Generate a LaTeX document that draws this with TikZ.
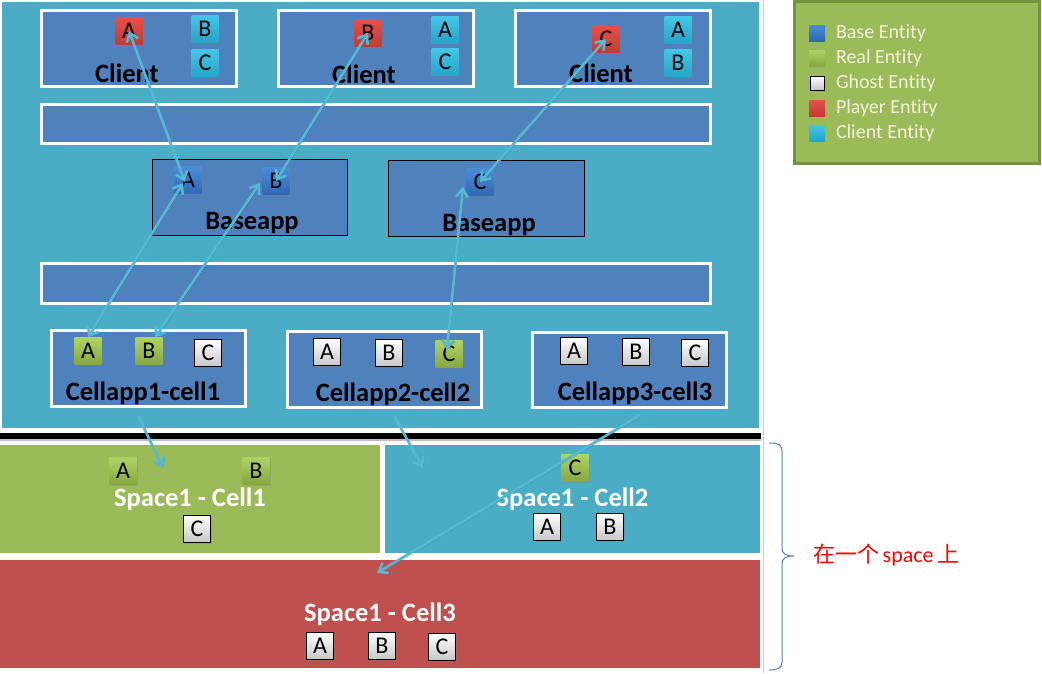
\documentclass[tikz,border=0pt]{standalone}
\usepackage{fontspec}
\setmainfont{Carlito}[Ligatures=NoCommon]
\newfontfamily\cjk{Noto Sans CJK SC}
\usetikzlibrary{arrows.meta,calc,shadows}
\definecolor{tealbg}{HTML}{4BACC6}
\definecolor{boxblue}{HTML}{4F81BD}
\definecolor{cellgreen}{HTML}{9BBB59}
\definecolor{cellred}{HTML}{C0504D}
\definecolor{legborder}{HTML}{76923C}
\definecolor{legtext}{HTML}{F4F4DC}
\definecolor{arrowc}{HTML}{55B9D4}
\definecolor{bracec}{HTML}{4F81BD}
\definecolor{entred1}{HTML}{E5504B}
\definecolor{entred2}{HTML}{C03B35}
\definecolor{entcy1}{HTML}{45C6E6}
\definecolor{entcy2}{HTML}{25A3C8}
\definecolor{entbl1}{HTML}{4A8CD8}
\definecolor{entbl2}{HTML}{2F68B4}
\definecolor{entgr1}{HTML}{AFD265}
\definecolor{entgr2}{HTML}{86A83E}
\begin{document}
\begin{tikzpicture}[x=1pt,y=-1pt,
  every node/.style={inner sep=0pt, outer sep=0pt},
  whitebox/.style={fill=boxblue, draw=white, line width=3pt,
    drop shadow={shadow xshift=1.2pt, shadow yshift=-1.2pt, opacity=0.35}},
  thinbox/.style={fill=boxblue, draw=black, line width=0.8pt},
  lbl/.style={font=\fontsize{26.5}{26.5}\selectfont\bfseries, text=black},
  spacelbl/.style={font=\fontsize{26.5}{26.5}\selectfont\bfseries, text=white},
  ent/.style={minimum width=27pt, minimum height=27pt, font=\fontsize{24}{24}\selectfont,
    drop shadow={shadow xshift=1pt, shadow yshift=-1pt, opacity=0.3}},
  ghost/.style={ent, draw=black, line width=0.9pt, top color=white, bottom color=black!22},
  real/.style={ent, top color=entgr1, bottom color=entgr2},
  player/.style={ent, top color=entred1, bottom color=entred2},
  cliente/.style={ent, top color=entcy1, bottom color=entcy2},
  basee/.style={ent, top color=entbl1, bottom color=entbl2},
  legsq/.style={minimum width=16pt, minimum height=16pt},
  legtxt/.style={font=\fontsize{20}{20}\selectfont, text=legtext, anchor=west},
  conn/.style={draw=arrowc, line width=2.6pt,
    {Straight Barb[length=8pt,width=12pt]}-{Straight Barb[length=8pt,width=12pt]},
    preaction={draw=black!80, opacity=0.4, transform canvas={shift={(1pt,-1pt)}}}},
  oneway/.style={draw=arrowc, line width=2.6pt,
    -{Straight Barb[length=8pt,width=12pt]},
    preaction={draw=black!80, opacity=0.4, transform canvas={shift={(1pt,-1pt)}}}}
]
\useasboundingbox (0,0) rectangle (1042,673);
\fill[white] (0,0) rectangle (1042,673);

% top panel
\draw[white, line width=2pt, fill=tealbg] (1,1) rectangle (760,429);
\draw[black!20, line width=1pt] (763,0) -- (763,673);
% separator
\fill[black] (0,433) rectangle (761,439);
\fill[black!25] (0,439) rectangle (761,441);

% space cells
\node[fill=cellgreen, minimum width=380pt, minimum height=108pt, spacelbl] (sc1) at (190,499) {Space1 - Cell1};
\node[fill=tealbg, minimum width=375pt, minimum height=108pt, spacelbl] (sc2) at (572.5,499) {Space1 - Cell2};
\node[fill=cellred, minimum width=760pt, minimum height=108pt, spacelbl] (sc3) at (380,614) {Space1 - Cell3};

% client boxes
\node[whitebox, minimum width=195pt, minimum height=76pt] (cl1) at (139,48.5) {};
\node[whitebox, minimum width=195pt, minimum height=76pt] (cl2) at (376,48.5) {};
\node[whitebox, minimum width=195pt, minimum height=76pt] (cl3) at (613,48.5) {};
\node[lbl] (cl1t) at (127,73) {Client};
\node[lbl] (cl2t) at (364,74) {Client};
\node[lbl] (cl3t) at (601,73) {Client};

% bars
\node[whitebox, minimum width=669pt, minimum height=39pt] (bar1) at (376,124) {};
\node[whitebox, minimum width=669pt, minimum height=40pt] (bar2) at (376,283.5) {};

% baseapps
\node[thinbox, minimum width=195pt, minimum height=76pt] (ba1) at (249.5,197) {};
\node[thinbox, minimum width=196pt, minimum height=76pt] (ba2) at (486,198) {};
\node[lbl] (ba1t) at (252,223) {Baseapp};
\node[lbl] (ba2t) at (489,225) {Baseapp};

% cellapps
\node[whitebox, minimum width=194pt, minimum height=76pt] (ca1) at (148.5,368.5) {};
\node[whitebox, minimum width=194pt, minimum height=76pt] (ca2) at (384.5,369.5) {};
\node[whitebox, minimum width=194pt, minimum height=75pt] (ca3) at (629.5,370) {};
\node[lbl] (ca1t) at (143,393) {Cellapp1-cell1};
\node[lbl] (ca2t) at (393,394) {Cellapp2-cell2};
\node[lbl] (ca3t) at (635,393) {Cellapp3-cell3};

% client entities
\node[player] (c1A) at (129,31) {A};
\node[cliente] (c1B) at (205,29) {B};
\node[cliente] (c1C) at (205,63) {C};
\node[player] (c2B) at (368,33) {B};
\node[cliente] (c2A) at (445,30) {A};
\node[cliente] (c2C) at (445,62) {C};
\node[player] (c3C) at (606,39) {C};
\node[cliente] (c3A) at (678,30) {A};
\node[cliente] (c3B) at (678,63) {B};

% base entities
\node[basee] (bA) at (188,180) {A};
\node[basee] (bB) at (276,181) {B};
\node[basee] (bC) at (480,182) {C};

% cellapp entities
\node[real] (k1A) at (88,351) {A};
\node[real] (k1B) at (149,351) {B};
\node[ghost] (k1C) at (208,353) {C};
\node[ghost] (k2A) at (327,352) {A};
\node[ghost] (k2B) at (389,353) {B};
\node[real] (k2C) at (449,354) {C};
\node[ghost] (k3A) at (574,351) {A};
\node[ghost] (k3B) at (636,352) {B};
\node[ghost] (k3C) at (695,353) {C};

% space entities
\node[real] (s1A) at (123,471) {A};
\node[real] (s1B) at (256,471) {B};
\node[ghost] (s1C) at (197,529) {C};
\node[real] (s2C) at (575,468) {C};
\node[ghost] (s2A) at (547,527) {A};
\node[ghost] (s2B) at (610,527) {B};
\node[ghost] (s3A) at (320,646) {A};
\node[ghost] (s3B) at (382,646) {B};
\node[ghost] (s3C) at (442,647) {C};

% connectors
\draw[conn] (c1A.center) -- ([xshift=-3pt,yshift=-2pt]bA.center);
\draw[conn] (c2B.center) -- (bB.center);
\draw[conn] (c3C.center) -- (bC.center);
\draw[conn] (k1A.north) -- ([xshift=-5pt,yshift=-3pt]bA.center);
\draw[conn] ([xshift=6pt]k1B.north) -- ([xshift=-16pt,yshift=-2pt]bB.center);
\draw[conn] ([xshift=-2pt,yshift=4pt]k2C.center) -- ([xshift=-17pt,yshift=-5pt]bC.center);

\coordinate (e1) at (163,468);
\coordinate (e2) at (423,468);
\coordinate (e3) at (377,573);
\draw[oneway] ([xshift=-10pt,yshift=-10pt]ca1.south) -- (e1);
\draw[oneway] ([xshift=10pt,yshift=-9pt]ca2.south) -- (e2);
\draw[oneway] ([xshift=10pt,yshift=-8pt]ca3.south) -- (e3);

% legend
\node[fill=cellgreen, draw=legborder, line width=3pt, minimum width=245pt, minimum height=162pt] (leg) at (917,82.5) {};
\node[legsq, top color=entbl1, bottom color=entbl2] (lg1) at (817,33) {};
\node[legsq, top color=entgr1, bottom color=entgr2] (lg2) at (817,58) {};
\node[legsq, draw=black, line width=0.9pt, top color=white, bottom color=black!22, minimum width=14pt, minimum height=14pt] (lg3) at (817,83) {};
\node[legsq, top color=entred1, bottom color=entred2] (lg4) at (817,108) {};
\node[legsq, top color=entcy1, bottom color=entcy2] (lg5) at (817,133) {};
\node[legtxt] (lt1) at (836,33) {Base Entity};
\node[legtxt] (lt2) at (836,58) {Real Entity};
\node[legtxt] (lt3) at (836,83) {Ghost Entity};
\node[legtxt] (lt4) at (836,108) {Player Entity};
\node[legtxt] (lt5) at (836,133) {Client Entity};

% brace
\draw[bracec, line width=1pt] (769,443) .. controls (778,443) and (782,444) .. (782,452)
  -- (782,548) .. controls (782,554) and (786,556) .. (794,556)
  .. controls (786,556) and (782,558) .. (782,564)
  -- (782,662) .. controls (782,668) and (778,670) .. (769,670);
\node[text=red, font=\fontsize{22}{22}\selectfont, anchor=west] (note) at (813,555) {{\cjk 在一个}\,space\,{\cjk 上}};
\end{tikzpicture}
\end{document}
